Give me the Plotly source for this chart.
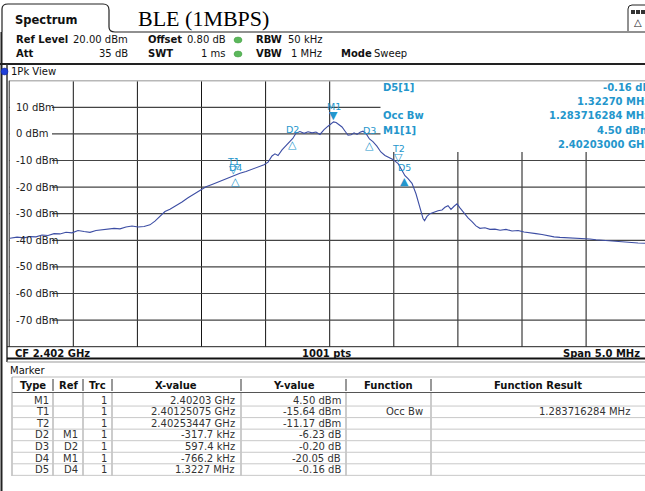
import plotly.graph_objects as go

W, H = 645, 491
SANS = "DejaVu Sans"
SERIF = "Liberation Serif"
TRACE_COLOR = "#3d4ea4"
MARK_COLOR = "#2496cc"

# spectrum trace (GHz, dBm)
FREQ_GHZ = [
    2.399506, 2.399561, 2.399615, 2.399662, 2.399709, 2.399756, 2.399803, 2.399850,
    2.399896, 2.399943, 2.399990, 2.400037, 2.400084, 2.400130, 2.400177, 2.400224,
    2.400271, 2.400318, 2.400364, 2.400411, 2.400458, 2.400505, 2.400552, 2.400598,
    2.400637, 2.400676, 2.400715, 2.400754, 2.400801, 2.400848, 2.400895, 2.400942,
    2.400988, 2.401035, 2.401082, 2.401129, 2.401176, 2.401222, 2.401251, 2.401300,
    2.401347, 2.401394, 2.401441, 2.401488, 2.401519, 2.401550, 2.401573, 2.401597,
    2.401628, 2.401659, 2.401690, 2.401712, 2.401737, 2.401768, 2.401800, 2.401831,
    2.401862, 2.401893, 2.401924, 2.401956, 2.401987, 2.402010, 2.402030, 2.402050,
    2.402073, 2.402096, 2.402120, 2.402143, 2.402167, 2.402190, 2.402213, 2.402237,
    2.402260, 2.402284, 2.402310, 2.402337, 2.402368, 2.402399, 2.402431, 2.402462,
    2.402493, 2.402534, 2.402556, 2.402587, 2.402611, 2.402642, 2.402673, 2.402704,
    2.402728, 2.402740, 2.402759, 2.402782, 2.402814, 2.402845, 2.402876, 2.402899,
    2.402923, 2.402946, 2.402970, 2.402993, 2.403016, 2.403048, 2.403079, 2.403110,
    2.403141, 2.403172, 2.403211, 2.403250, 2.403289, 2.403329, 2.403375, 2.403422,
    2.403469, 2.403516, 2.403562, 2.403609, 2.403656, 2.403703, 2.403750, 2.403796,
    2.403843, 2.403890, 2.403937, 2.403984, 2.404030, 2.404077, 2.404124, 2.404171,
    2.404218, 2.404264, 2.404311, 2.404358, 2.404405, 2.404459, 2.404500,
]
LEVEL_DBM = [
    -39.2, -38.8, -39.1, -38.6, -38.7, -38.0, -38.2, -37.5,
    -37.6, -37.0, -37.2, -36.3, -36.7, -37.0, -36.3, -36.0,
    -35.9, -35.5, -35.7, -35.0, -34.6, -35.0, -34.8, -34.2,
    -32.8, -30.8, -29.2, -28.3, -27.0, -25.6, -24.0, -22.6,
    -21.2, -19.9, -19.0, -18.1, -17.0, -16.3, -15.6, -14.8,
    -14.1, -13.3, -12.4, -11.6, -10.6, -8.3, -7.5, -8.1,
    -6.0, -4.3, -3.0, -1.7, 0.3, 0.9, 0.2, 0.8,
    0.4, 0.7, -0.2, 1.6, 2.9, 3.9, 4.5, 4.3,
    3.5, 2.6, 1.0, -0.5, -0.3, 0.4, -0.2, 0.6,
    1.0, 0.1, -1.9, -2.9, -4.6, -6.8, -8.1, -8.8,
    -9.6, -11.2, -13.0, -15.7, -16.8, -18.6, -22.5, -27.6,
    -31.8, -32.6, -31.0, -30.0, -29.4, -28.9, -28.6, -27.6,
    -27.0, -28.4, -27.2, -26.3, -27.8, -29.8, -31.6, -33.0,
    -34.6, -35.5, -35.3, -35.9, -35.8, -36.2, -35.9, -36.5,
    -36.3, -36.9, -37.1, -37.5, -37.8, -38.3, -38.7, -38.9,
    -39.0, -39.1, -39.3, -39.5, -39.5, -39.8, -40.0, -40.1,
    -40.2, -40.5, -40.6, -40.9, -41.0, -41.1, -41.2,
]

Y_TICKS = [10, 0, -10, -20, -30, -40, -50, -60, -70]
X_GRID_GHZ = [2.4000, 2.4005, 2.4010, 2.4015, 2.4020, 2.4025, 2.4030, 2.4035, 2.4040]

# markers: name, freq, level, glyph
MARK_NAMES = ["M1", "T1", "T2", "D2", "D3", "D4", "D5"]
MARK_FREQ = [2.40203, 2.40125075, 2.40253447, 2.4017123, 2.4023097, 2.4012638, 2.4025865]
MARK_LEVEL = [4.50, -15.64, -11.17, -1.73, -1.93, -15.55, -15.71]
MARK_GLYPH = ["▼", "▽", "▽", "△", "△", "△", "▲"]

# marker table
TBL_TYPE = ["M1", "T1", "T2", "D2", "D3", "D4", "D5"]
TBL_REF = ["", "", "", "M1", "D2", "M1", "D4"]
TBL_TRC = ["1", "1", "1", "1", "1", "1", "1"]
TBL_X = ["2.40203 GHz", "2.40125075 GHz", "2.40253447 GHz", "-317.7 kHz",
         "597.4 kHz", "-766.2 kHz", "1.3227 MHz"]
TBL_Y = ["4.50 dBm", "-15.64 dBm", "-11.17 dBm", "-6.23 dB", "-0.20 dB",
         "-20.05 dB", "-0.16 dB"]
TBL_FUNC = ["", "Occ Bw", "", "", "", "", ""]
TBL_RES = ["", "1.283716284 MHz", "", "", "", "", ""]

INFO_LEFT = ["D5[1]", "", "Occ Bw", "M1[1]", ""]
INFO_RIGHT = ["-0.16 dB", "1.32270 MHz", "1.283716284 MHz", "4.50 dBm", "2.40203000 GHz"]

# plot box in pixels
PX0, PX1, PY0, PY1 = 9.2, 645, 80.7, 346.7


def px(x):
    return x / W


def py(y):
    return 1 - y / H


def dx(x):
    return (x - PX0) / (PX1 - PX0)


def dy(y):
    return (PY1 - y) / (PY1 - PY0)


shapes = []
annotations = []


def line(x0, y0, x1, y1, color="#222", width=1):
    shapes.append(dict(type="line", xref="paper", yref="paper",
                       x0=px(x0), y0=py(y0), x1=px(x1), y1=py(y1),
                       line=dict(color=color, width=width)))


def text(x, y, s, size=10, bold=False, anchor="left", color="#111", family=SANS):
    annotations.append(dict(xref="paper", yref="paper", x=px(x), y=py(y),
                            text=f"<b>{s}</b>" if bold else s, showarrow=False,
                            xanchor=anchor, yanchor="middle", borderpad=0,
                            font=dict(family=family, size=size, color=color)))


fig = go.Figure()
fig.add_trace(go.Scatter(x=FREQ_GHZ, y=LEVEL_DBM, mode="lines",
                         line=dict(color=TRACE_COLOR, width=1.1), hoverinfo="skip"))

# ---- grid (below the trace), then white covers over it ----
for f in X_GRID_GHZ:
    shapes.append(dict(type="line", xref="x", yref="y domain", layer="below",
                       x0=f, x1=f, y0=0, y1=1, line=dict(color="#151515", width=1)))
for v in Y_TICKS:
    shapes.append(dict(type="line", xref="x domain", yref="y", layer="below",
                       x0=0, x1=1, y0=v, y1=v, line=dict(color="#444", width=1.2)))
for v in Y_TICKS:
    shapes.append(dict(type="rect", xref="x domain", yref="y", layer="below",
                       x0=dx(9.6), x1=dx(52), y0=v - 2.3, y1=v + 2.3,
                       fillcolor="white", line=dict(width=0)))
    annotations.append(dict(xref="paper", yref="y", x=px(14), y=v, text=f"{v} dBm",
                            showarrow=False, xanchor="left", yanchor="middle",
                            font=dict(family=SANS, size=10, color="#222")))
shapes.append(dict(type="rect", xref="x domain", yref="y domain", layer="below",
                   x0=dx(380.5), x1=1, y0=dy(152), y1=1.0,
                   fillcolor="white", line=dict(width=0)))

# ---- header ----
tab = (f"M {px(2)},{py(32)} L {px(2)},{py(9)} Q {px(2)},{py(4)} {px(8)},{py(4)} "
       f"L {px(103)},{py(4)} Q {px(109)},{py(4)} {px(109)},{py(10)} "
       f"L {px(109)},{py(27)} Q {px(109)},{py(32)} {px(115)},{py(32)} L {px(645)},{py(32)}")
shapes.append(dict(type="path", xref="paper", yref="paper", path=tab,
                   line=dict(color="#222", width=1.2)))
text(14, 20, "Spectrum", size=11.5, bold=True)
text(137, 19, "BLE (1MBPS)", size=22, family=SERIF, color="#000")

# icon at top right
icon = (f"M {px(628)},{py(31)} L {px(628)},{py(9)} Q {px(628)},{py(5)} {px(632)},{py(5)} "
        f"L {px(650)},{py(5)}")
shapes.append(dict(type="path", xref="paper", yref="paper", path=icon,
                   line=dict(color="#222", width=1)))
for k in range(3):
    shapes.append(dict(type="rect", xref="paper", yref="paper",
                       x0=px(631 + 5 * k), x1=px(635 + 5 * k), y0=py(14), y1=py(10),
                       fillcolor="#333", line=dict(width=0)))
text(638, 23, "△", size=10, anchor="center", color="#222")

text(15, 40, "Ref Level", bold=True)
text(129, 40, "20.00 dBm", anchor="right")
text(147, 40, "Offset", bold=True)
text(227, 40, "0.80 dB", anchor="right")
text(255, 40, "RBW", bold=True)
text(287, 40, "50 kHz")
text(15, 54, "Att", bold=True)
text(129, 54, "35 dB", anchor="right")
text(147, 54, "SWT", bold=True)
text(227, 54, "1 ms", anchor="right")
text(255, 54, "VBW", bold=True)
text(290, 54, "1 MHz")
text(340, 54, "Mode", bold=True)
text(373, 54, "Sweep")
for yy in (40, 54):
    shapes.append(dict(type="circle", xref="paper", yref="paper",
                       x0=px(234), x1=px(242), y0=py(yy + 3), y1=py(yy - 3),
                       fillcolor="#5cb85c", line=dict(color="#3e9a3e", width=0.5)))

line(0, 64, 645, 64, color="#222", width=2)
line(1.5, 32, 1.5, 491, color="#222", width=2)
line(7, 64, 7, 362, color="#333", width=1.5)

shapes.append(dict(type="circle", xref="paper", yref="paper",
                   x0=px(1), x1=px(8), y0=py(75), y1=py(68),
                   fillcolor="#1f3fd8", line=dict(color="#10208a", width=0.5)))
text(10, 71.5, "1Pk View")

# frame of the trace window
line(PX0, PY0, 645, PY0, color="#b8b8b8", width=1.5)
line(PX0, PY0, PX0, PY1, color="#222", width=1)
line(7, PY1, 645, PY1, color="#222", width=1)

# marker info (top right)
info_y = [87.5, 101.5, 116, 130, 144.3]
for yy, lt, rt in zip(info_y, INFO_LEFT, INFO_RIGHT):
    if lt:
        text(382, yy, lt, bold=True, color=MARK_COLOR)
    text(651, yy, rt, bold=True, color=MARK_COLOR, anchor="right")

# markers on the trace
label_shift = {"M1": 15, "T1": 14, "T2": 15, "D2": 9, "D3": 9, "D4": 8, "D5": 8}
for name, f, lv, g in zip(MARK_NAMES, MARK_FREQ, MARK_LEVEL, MARK_GLYPH):
    down = g in ("▼", "▽")
    annotations.append(dict(xref="x", yref="y", x=f, y=lv, text=g, showarrow=False,
                            yshift=6 if down else -6, xanchor="center", yanchor="middle",
                            font=dict(family=SANS, size=11, color=MARK_COLOR)))
    annotations.append(dict(xref="x", yref="y", x=f, y=lv, text=name, showarrow=False,
                            yshift=label_shift[name], xanchor="center", yanchor="middle",
                            font=dict(family=SANS, size=9.5, color=MARK_COLOR)))

# ---- CF bar ----
text(14, 353.5, "CF 2.402 GHz", bold=True)
text(326, 353.5, "1001 pts", bold=True, anchor="center")
text(641, 353.5, "Span 5.0 MHz", bold=True, anchor="right")
line(7, 358.5, 645, 358.5, color="#111", width=2)
line(7, 362, 645, 362, color="#999", width=1)

# ---- marker table ----
text(9, 370, "Marker", size=10, color="#111")
col_edges = [12, 53, 83, 112, 241, 346, 431, 645]
col_heads = ["Type", "Ref", "Trc", "X-value", "Y-value", "Function", "Function Result"]
col_right = [50, 79, 108, 236, 342, 424, 631]
line(12, 377, 645, 377, color="#bbb", width=1)
line(12, 392.5, 645, 392.5, color="#555", width=1)
for i, h in enumerate(col_heads):
    text((col_edges[i] + col_edges[i + 1]) / 2, 385, h, bold=True, anchor="center", color="#111")
for xe in col_edges[1:-1]:
    line(xe, 379, xe, 391, color="#333", width=1)
    line(xe, 393, xe, 476, color="#999", width=1)
line(12, 377, 12, 476, color="#999", width=1)

row_y0 = 394.5
row_h = 11.55
cols = [TBL_TYPE, TBL_REF, TBL_TRC, TBL_X, TBL_Y, TBL_FUNC, TBL_RES]
for r in range(len(TBL_TYPE)):
    cy = row_y0 + row_h * (r + 0.5)
    for c, col in enumerate(cols):
        if col[r]:
            text(col_right[c], cy, col[r], anchor="right", color="#333")
    line(12, row_y0 + row_h * (r + 1), 645, row_y0 + row_h * (r + 1), color="#c8c8c8", width=1)

fig.update_layout(
    width=W, height=H,
    margin=dict(l=0, r=0, t=0, b=0),
    paper_bgcolor="white", plot_bgcolor="white",
    showlegend=False,
    xaxis=dict(domain=[px(PX0), 1], range=[2.3995, 2.4044594],
               showgrid=False, showticklabels=False,
               ticks="", zeroline=False, showline=False, fixedrange=True),
    yaxis=dict(domain=[py(PY1), py(PY0)], range=[-80, 20],
               showgrid=False, showticklabels=False,
               ticks="", zeroline=False, showline=False, fixedrange=True),
    shapes=shapes,
    annotations=annotations,
)

# page body has a default 8px margin; drop it so the figure sits at 0,0
fig.write_html("out.html", config={"displayModeBar": False},
               post_script="document.body.style.margin='0';")
